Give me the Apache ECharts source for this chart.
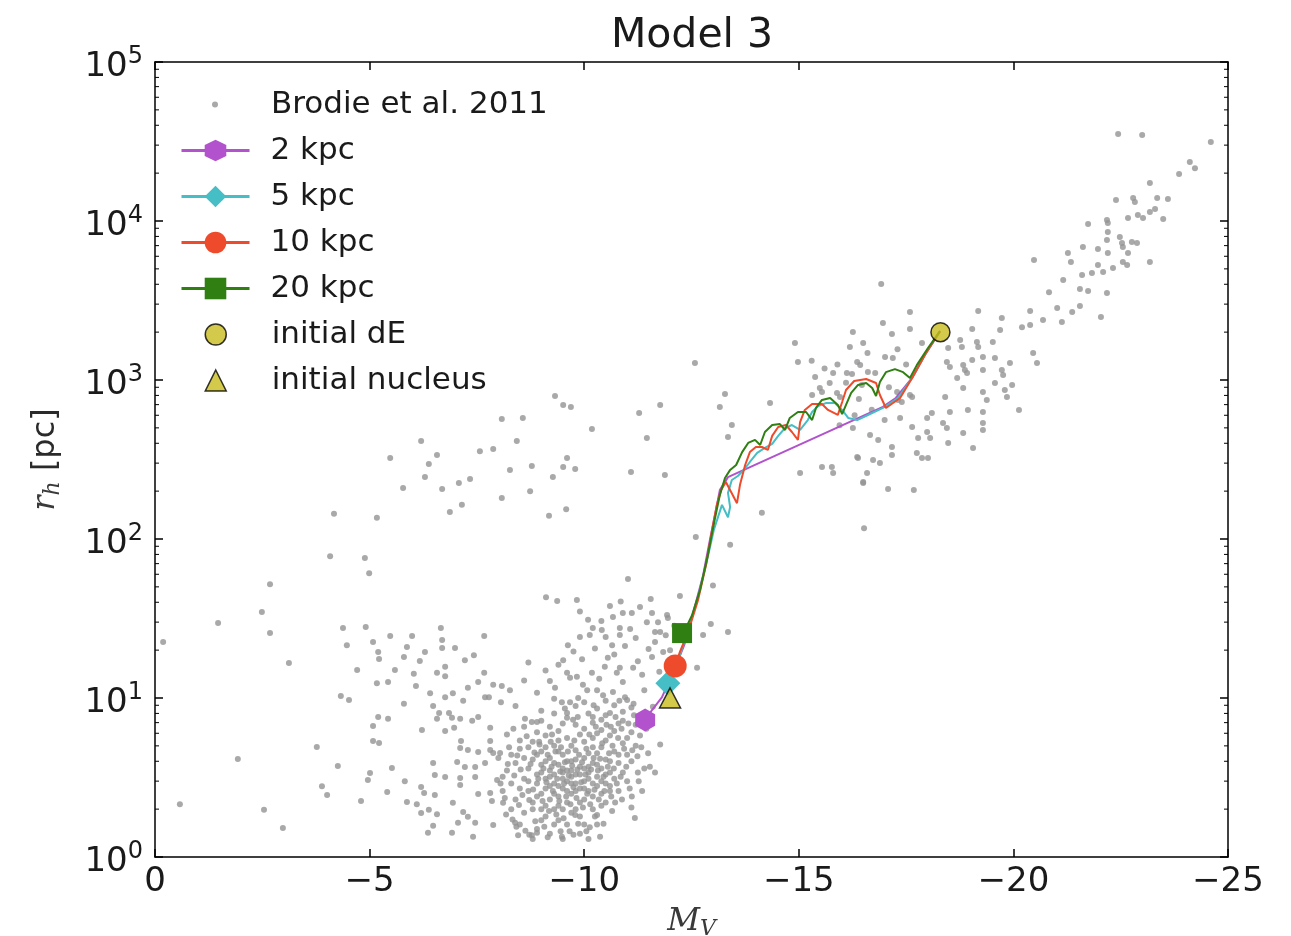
<!DOCTYPE html>
<html><head><meta charset="utf-8">
<script src="https://cdn.jsdelivr.net/npm/echarts@6/dist/echarts.min.js"></script>
<style>html,body{margin:0;padding:0;background:#fff}#c{width:1291px;height:936px}</style>
</head><body><div id="c"></div>
<script>
// ---- Brodie et al. 2011 sample: [M_V, r_h (pc)] ----
const brodieFaint = [[-0.19,22.5],[-0.58,2.15],[-1.47,29.6],[-1.93,4.13],[-2.54,1.98],[-2.68,52],[-2.49,34.7],[-2.68,25.6],[-3.12,16.6],[-2.98,1.52],[-3.77,4.92],[-3.89,2.79],[-4.01,2.45],[-4.08,78],[-4.17,144],[-4.26,3.73],[-4.33,10.3],[-4.52,9.7],[-4.38,27.6],[-4.47,21.5],[-4.71,15.0],[-4.80,2.25],[-4.89,76],[-4.91,28],[-4.99,61],[-5.08,22.5],[-5.17,136],[-5.08,6.67],[-5.08,5.37],[-5.22,5.21],[-5.20,19.5],[-5.22,17.6],[-5.17,12.4],[-5.43,12.6],[-5.20,7.6],[-5.43,7.4],[-5.01,3.37],[-4.96,3.05],[-5.41,2.56],[-5.48,24.5],[-5.48,323],[-5.52,3.63],[-5.59,15.0],[-5.78,209],[-5.80,18.1],[-5.80,9.2],[-5.82,3.0],[-5.87,20.9],[-5.87,2.22],[-5.99,24.5],[-6.03,14.2],[-6.08,11.9],[-6.10,2.15],[-6.17,17.1],[-6.20,413],[-6.20,2.76],[-6.27,2.53],[-6.20,1.89],[-6.22,6.3],[-6.29,19.5],[-6.29,245],[-6.36,1.42],[-6.38,1.98],[-6.38,296],[-6.41,10.7],[-6.48,8.9],[-6.48,3.9],[-6.48,1.57],[-6.52,3.28],[-6.52,2.45],[-6.57,338],[-6.57,14.4],[-6.57,7.4],[-6.57,1.86],[-6.62,8.05],[-6.66,27.6],[-6.69,23.2],[-6.69,20.6],[-6.69,206],[-6.76,15.7],[-6.76,13.7],[-6.76,10.1],[-6.76,6.2],[-6.76,3.19],[-6.85,8.05],[-6.87,148],[-6.92,7.5],[-6.92,1.42],[-6.94,10.7],[-6.94,2.19],[-6.97,6.5],[-6.99,20.6],[-7.04,3.96],[-7.06,1.64],[-7.08,225],[-7.11,7.4],[-7.11,4.85],[-7.11,3.14],[-7.11,2.84],[-7.13,5.37],[-7.15,164],[-7.18,9.6],[-7.18,1.92],[-7.22,17.3],[-7.22,3.68],[-7.29,11.6],[-7.29,4.71],[-7.29,1.79],[-7.34,238],[-7.39,7.2],[-7.41,1.34],[-7.43,18.6],[-7.46,3.68],[-7.46,3.19],[-7.46,1.64],[-7.53,12.6],[-7.53,7.6],[-7.53,4.57],[-7.53,2.49],[-7.57,357],[-7.67,24.5],[-7.67,14.4],[-7.69,10.1],[-7.69,3.9],[-7.78,10.1],[-7.81,6.5],[-7.81,5.37],[-7.81,4.71],[-7.81,2.53],[-7.85,2.25],[-7.88,368],[-7.88,12.1],[-7.88,4.51],[-7.88,1.59],[-7.97,3.05]];

const brodieMid = [[-8.04,4.51],[-8.06,9.4],[-8.08,569],[-8.08,181],[-8.08,11.9],[-8.11,2.19],[-8.27,272],[-8.27,11.2],[-8.39,1.64],[-8.43,413],[-8.46,1.37],[-8.57,577],[-8.74,200],[-8.78,288],[-8.78,7.07],[-8.78,1.37],[-8.90,7.07],[-8.90,1.42],[-9.11,43],[-9.18,140],[-9.27,245],[-9.32,793],[-9.37,40.7],[-9.48,1.34],[-9.51,697],[-9.51,284],[-9.58,154],[-9.60,323],[-9.69,677],[-9.79,276],[-9.83,41.3],[-10.18,492],[-11.02,56],[-11.09,264],[-11.28,620],[-11.46,432],[-9.62,21.5],[-9.90,24.2],[-10.09,31],[-10.13,24.9],[-10.20,27.6],[-10.41,26.8],[-10.60,37.9],[-10.67,32.3],[-10.90,34.3],[-11.11,34.3],[-11.30,37.4],[-10.83,27.6],[-10.83,24.9],[-11.07,27.2],[-11.46,30],[-11.58,34.3],[-11.72,30],[-11.93,33.3],[-11.95,31.8],[-10.65,21.5],[-11.65,26],[-11.77,26],[-11.65,22.5],[-9.51,17.3],[-10.55,17.9],[-11.58,18.1],[-11.84,19.5],[-12.00,20],[-10.48,15.7],[-10.83,15.5],[-9.60,14.4],[-9.67,13.4],[-9.83,13.6],[-10.18,14.4],[-10.76,14.4],[-11.14,15.5],[-11.35,14],[-9.32,11.6],[-9.97,12.1],[-10.07,11.2],[-9.48,9.4],[-9.67,9.4],[-9.86,10],[-10.30,11.2],[-10.44,10.4],[-11.00,9.7],[-9.60,8.05],[-9.74,7.3],[-10.20,7.6],[-10.60,8.05],[-10.95,10.1],[-10.67,10.9],[-11.77,5.1],[-11.49,4.5],[-11.53,3.7],[-11.65,3.4],[-11.25,3.4],[-11.11,2.4],[-10.72,2.2],[-11.18,1.76],[-10.30,1.84],[-9.79,1.84],[-10.13,1.54],[-10.37,1.34],[-12.95,29.2],[-12.77,24.9],[-13.35,26],[-12.63,15.5],[-12.23,43.8],[-13.00,51],[-12.60,103],[-13.40,92],[-14.14,146],[-11.88,253],[-11.77,697],[-13.16,677],[-13.44,521],[-13.35,438],[-13.28,817],[-14.33,716],[-12.58,1279],[-14.91,1710],[-14.98,1298]];

const brodieArm = [[-9.2,12.8],[-9.4,16.2],[-9.75,19.6],[-9.95,17.5],[-10.25,20.5],[-10.35,13.2],[-10.5,24.2],[-10.7,18.8],[-10.9,12.6],[-10.95,21.2],[-11.2,23.8],[-11.25,17.0],[-11.4,11.2],[-11.5,20.3],[-11.75,14.6],[-11.9,24.8],[-12.1,28.5],[-10.4,30.5],[-10.85,40.5],[-11.55,42],[-9.9,35],[-11.15,9.2],[-11.6,8.8],[-9.3,9.9],[-9.1,14.9],[-8.9,10.8],[-8.6,12.9],[-8.4,8.9],[-8.7,16.7]];

const brodieCore = [[-8.6,3.1],[-8.7,2.6],[-8.7,3.6],[-8.8,2.2],[-8.8,4.1],[-8.9,2.9],[-8.9,3.3],[-9.0,2.0],[-9.0,2.5],[-9.0,3.8],[-9.0,4.6],[-9.1,2.7],[-9.1,3.1],[-9.1,1.8],[-9.2,2.3],[-9.2,3.5],[-9.2,4.2],[-9.3,2.0],[-9.3,2.9],[-9.3,3.3],[-9.3,5.0],[-9.4,2.4],[-9.4,3.8],[-9.4,1.7],[-9.5,2.7],[-9.5,3.1],[-9.5,4.4],[-9.6,2.2],[-9.6,3.5],[-9.6,5.6],[-9.7,2.5],[-9.7,2.9],[-9.7,4.0],[-9.8,3.3],[-9.8,2.0],[-9.8,4.7],[-9.9,2.7],[-9.9,3.7],[-10.0,3.0],[-10.0,2.3],[-10.0,4.2],[-10.0,5.3],[-10.1,3.4],[-10.1,2.6],[-10.2,3.9],[-10.2,2.9],[-10.3,4.5],[-10.3,3.2],[-10.4,2.5],[-10.4,3.6],[-10.5,4.1],[-10.5,2.9],[-10.6,3.4],[-10.7,4.6],[-10.8,3.9],[-10.9,5.2],[-10.6,5.8],[-10.4,6.3],[-10.2,7.0],[-10.0,6.4],[-9.8,6.8],[-10.5,7.8],[-10.8,6.9],[-11.0,4.4],[-11.1,6.1],[-11.2,5.0],[-10.9,8.2],[-10.7,9.0],[-10.3,8.6],[-10.0,9.4],[-9.6,7.5],[-9.4,6.2],[-9.1,5.8],[-8.8,5.3],[-8.5,4.8],[-8.4,3.9],[-8.3,2.9],[-8.4,2.3],[-8.6,1.9],[-8.5,1.6],[-8.9,1.5],[-9.2,1.4],[-9.6,1.6],[-9.9,1.8],[-10.2,2.0],[-10.5,2.2],[-10.8,2.6],[-11.0,3.0],[-8.2,3.5],[-8.1,2.6],[-8.0,4.2],[-8.2,5.9],[-8.6,6.6],[-9.0,7.2],[-9.3,8.0],[-9.7,5.0],[-9.9,1.4],[-9.5,1.3],[-10.3,1.6],[-10.1,1.3],[-8.8,1.3],[-8.7,4.9],[-9.4,4.6],[-10.2,4.9],[-9.0,3.4],[-9.2,2.8],[-9.6,3.0],[-9.8,2.6],[-10.1,3.7],[-9.4,2.1],[-8.9,2.4],[-9.7,3.5],[-10.4,3.0],[-10.6,2.6],[-9.1,4.0],[-9.5,3.6],[-10.0,3.6],[-9.3,2.5],[-8.3,2.0],[-8.5,2.7],[-8.6,4.2],[-8.7,3.0],[-8.8,2.0],[-8.9,4.4],[-9.0,1.7],[-9.1,2.1],[-9.1,4.9],[-9.2,3.2],[-9.3,3.9],[-9.3,1.6],[-9.4,2.8],[-9.4,5.4],[-9.5,2.0],[-9.5,3.4],[-9.6,4.0],[-9.6,2.6],[-9.7,1.9],[-9.7,3.2],[-9.8,4.1],[-9.8,2.9],[-9.9,2.2],[-9.9,3.3],[-10.0,2.7],[-10.0,1.6],[-10.1,4.5],[-10.1,3.1],[-10.2,2.4],[-10.2,5.6],[-10.3,2.8],[-10.3,3.8],[-10.4,4.9],[-10.4,2.1],[-10.5,3.3],[-10.5,5.4],[-10.6,2.8],[-10.6,4.0],[-10.7,3.1],[-10.7,6.2],[-10.8,4.4],[-10.9,3.4],[-11.0,5.6],[-11.1,4.0],[-11.2,6.8],[-10.9,7.2],[-10.5,9.6],[-10.3,6.0],[-9.9,5.9],[-9.5,6.9],[-9.2,6.6],[-8.9,6.1],[-8.5,5.4],[-8.3,4.4],[-9.0,8.3],[-9.8,8.9],[-10.1,8.0],[-11.1,8.7],[-11.3,5.8],[-8.1,3.2]];

const brodieCoreB = [[-8.15,2.35],[-8.22,3.85],[-8.33,1.72],[-8.37,3.25],[-8.44,4.35],[-8.48,2.12],[-8.52,3.55],[-8.56,2.45],[-8.63,1.46],[-8.66,5.75],[-8.72,2.28],[-8.75,3.85],[-8.81,2.66],[-8.84,4.55],[-8.86,1.68],[-8.93,3.1],[-8.96,5.1],[-9.03,2.25],[-9.05,3.6],[-9.07,1.55],[-9.12,2.95],[-9.15,4.4],[-9.18,1.95],[-9.22,5.3],[-9.24,3.7],[-9.27,2.6],[-9.33,4.6],[-9.35,1.85],[-9.37,3.1],[-9.42,2.25],[-9.44,3.45],[-9.46,4.9],[-9.52,1.75],[-9.53,2.9],[-9.55,3.95],[-9.58,2.4],[-9.62,4.6],[-9.64,3.25],[-9.66,1.45],[-9.68,2.15],[-9.72,3.75],[-9.75,2.75],[-9.77,5.4],[-9.82,2.35],[-9.84,3.55],[-9.86,1.62],[-9.88,4.4],[-9.93,2.95],[-9.95,3.95],[-9.97,2.05],[-10.03,3.3],[-10.05,4.8],[-10.07,2.5],[-10.12,5.9],[-10.14,2.15],[-10.16,3.55],[-10.22,4.2],[-10.24,2.65],[-10.27,6.6],[-10.32,3.5],[-10.34,2.3],[-10.37,4.15],[-10.42,5.2],[-10.45,3.2],[-10.47,2.6],[-10.52,6.8],[-10.55,3.7],[-10.58,4.5],[-10.63,2.4],[-10.66,5.0],[-10.69,3.6],[-10.73,7.6],[-10.76,2.9],[-10.79,5.6],[-10.85,3.2],[-10.87,6.4],[-10.93,4.8],[-10.98,3.7],[-11.03,6.9],[-11.06,2.7],[-11.12,4.7],[-11.16,7.8],[-11.24,4.3],[-11.27,3.0],[-10.22,9.0],[-10.4,7.3],[-10.62,6.6],[-10.82,9.6],[-9.85,7.6],[-9.55,8.6],[-9.25,5.9],[-8.95,5.3],[-8.62,7.4],[-8.35,6.4],[-8.25,4.9],[-8.05,2.9],[-8.18,1.85],[-8.42,1.55],[-8.72,1.38],[-9.15,1.33],[-9.45,1.45],[-9.75,1.38],[-10.05,1.45],[-10.25,1.8],[-10.45,1.62],[-10.65,1.95],[-10.88,2.3],[-11.1,2.05],[-11.35,2.6],[-11.4,3.6],[-11.33,4.9],[-11.45,6.4]];

const brodieBright = [[-16.52,117],[-16.50,225],[-17.08,206],[-17.68,203],[-15.03,260],[-15.54,284],[-15.77,284],[-15.80,260],[-16.36,328],[-16.73,314],[-16.89,301],[-16.59,260],[-16.50,228],[-16.26,2004],[-17.17,1946],[-16.19,1614],[-16.50,1710],[-17.87,1710],[-16.96,2282],[-17.59,2679],[-16.92,4018],[-17.59,2094],[-17.01,1396],[-17.19,1374],[-16.36,1298],[-16.43,1241],[-15.80,1107],[-16.12,1107],[-16.24,1091],[-15.38,1045],[-16.61,1122],[-16.78,1107],[-15.49,891],[-15.54,841],[-15.72,957],[-15.31,805],[-15.89,829],[-15.96,782],[-16.47,931],[-17.29,841],[-17.31,748],[-17.40,727],[-17.64,782],[-16.26,499],[-16.66,451],[-17.36,577],[-17.64,506],[-17.17,379],[-17.17,338],[-17.75,348],[-17.87,323],[-18.01,323],[-16.38,323],[-15.6,1180],[-15.9,1250],[-16.1,960],[-16.4,760],[-16.7,650],[-17.0,560],[-16.85,420],[-15.95,520],[-16.3,600],[-17.1,900],[-15.3,1320],[-16.6,1480],[-17.3,1560],[-17.5,1250],[-18.48,1589],[-18.76,1786],[-18.80,1614],[-19.15,1734],[-19.18,1614],[-19.52,1734],[-19.18,2716],[-19.04,2094],[-19.73,2455],[-19.69,2063],[-20.46,1479],[-20.55,1279],[-18.45,1298],[-18.52,1208],[-18.83,1242],[-19.04,1336],[-19.29,1396],[-19.57,1374],[-19.92,1279],[-18.69,1030],[-18.87,1156],[-18.92,1107],[-19.29,1156],[-19.73,1156],[-19.76,1075],[-19.57,957],[-19.97,931],[-18.83,891],[-19.29,841],[-19.38,749],[-19.80,865],[-19.85,782],[-18.41,782],[-17.59,805],[-20.13,648],[-18.94,648],[-19.29,629],[-18.52,629],[-18.10,620],[-17.99,577],[-18.36,537],[-18.45,499],[-19.29,537],[-19.29,485],[-18.83,464],[-17.99,471],[-17.78,432],[-18.06,432],[-18.48,402],[-19.06,374]];

const brodieGiant = [[-22.44,35240],[-23.0,34750],[-24.6,31400],[-24.11,23500],[-24.23,21500],[-23.86,19770],[-23.18,17340],[-22.39,13550],[-22.79,13960],[-22.83,13150],[-23.35,13960],[-23.60,13740],[-21.74,9570],[-22.18,10140],[-22.20,9710],[-22.67,10440],[-22.90,10920],[-23.02,10440],[-23.18,11410],[-23.30,11890],[-23.49,10300],[-22.20,8530],[-22.18,7600],[-22.48,7930],[-22.53,7270],[-22.55,6860],[-22.76,7380],[-22.88,7270],[-21.62,6860],[-21.27,6290],[-21.34,5520],[-21.97,6670],[-22.20,6290],[-22.67,6290],[-23.18,5520],[-20.48,5690],[-21.97,5290],[-21.83,4710],[-22.09,4780],[-22.32,5060],[-22.55,5520],[-22.65,5290],[-21.60,4570],[-21.16,4260],[-21.55,3740],[-21.74,3630],[-22.18,3520],[-20.83,3570],[-20.39,2716],[-21.02,2840],[-21.37,2680],[-21.55,2920],[-22.04,2490],[-20.69,2385],[-20.39,2220],[-20.20,2150],[-21.13,2320]];

// ---- Model 3 tracks: [M_V, r_h (pc)] ----
const track2kpc = [[-18.29,2030],[-17.94,1440],[-17.64,1030],[-17.26,771],[-16.96,677],[-13.35,245],[-13.16,203],[-13.07,152],[-12.93,99],[-12.77,59],[-12.56,36],[-12.33,21.5],[-12.05,14],[-11.81,10.1],[-11.58,8.4],[-11.42,7.27]];
const track5kpc = [[-18.29,2030],[-17.94,1440],[-17.64,1030],[-17.31,771],[-16.96,667],[-16.66,611],[-16.36,560],[-16.15,577],[-16.01,648],[-15.84,716],[-15.63,716],[-15.45,686],[-15.31,629],[-15.21,560],[-15.03,485],[-14.84,521],[-14.68,499],[-14.52,445],[-14.38,396],[-14.21,374],[-14.03,348],[-13.86,305],[-13.72,272],[-13.58,249],[-13.44,235],[-13.35,195],[-13.40,159],[-13.35,137],[-13.21,164],[-13.02,114],[-12.84,69],[-12.63,41],[-12.42,26.8],[-12.19,17.3],[-12.00,13.4],[-11.95,12.4]];
const track10kpc = [[-18.29,2030],[-17.94,1440],[-17.64,1030],[-17.36,771],[-17.03,667],[-16.89,805],[-16.80,957],[-16.57,1014],[-16.29,986],[-16.10,865],[-16.01,727],[-15.91,603],[-15.68,648],[-15.54,706],[-15.31,706],[-15.14,648],[-15.03,544],[-14.98,420],[-14.84,471],[-14.70,521],[-14.52,506],[-14.38,445],[-14.28,363],[-14.14,379],[-14.00,379],[-13.86,352],[-13.75,292],[-13.63,219],[-13.56,168],[-13.42,198],[-13.30,228],[-13.19,203],[-13.09,164],[-12.98,114],[-12.84,69],[-12.65,41],[-12.42,26],[-12.23,19.5],[-12.12,15.9]];
const track20kpc = [[-18.29,2030],[-18.01,1590],[-17.75,1240],[-17.59,1030],[-17.43,1120],[-17.24,1170],[-17.03,1120],[-16.89,970],[-16.80,793],[-16.71,891],[-16.57,957],[-16.38,931],[-16.22,829],[-16.10,697],[-16.01,611],[-15.91,697],[-15.73,771],[-15.54,749],[-15.40,667],[-15.31,560],[-15.17,629],[-14.98,629],[-14.79,577],[-14.68,485],[-14.56,528],[-14.38,521],[-14.21,471],[-14.10,390],[-13.98,420],[-13.82,402],[-13.68,352],[-13.54,292],[-13.40,272],[-13.28,242],[-13.16,189],[-13.04,132],[-12.88,79],[-12.70,48],[-12.51,33],[-12.37,27.6],[-12.28,25.6]];
const initialDE = [[-18.3, 2000]];
const initialNucleus = [[-12.0, 10]];

// ---- axis ticks ----
const yDecades = [1, 10, 100, 1000, 10000];
const yMinorMultipliers = [2, 3, 4, 5, 6, 7, 8, 9];
const yMinorTicks = [];
yDecades.forEach(d => yMinorMultipliers.forEach(m => yMinorTicks.push(d * m)));

const FONT = 'DejaVu Sans';
const TXT = '#1a1a1a';
const HEX = 'path://M0,-1 L0.866,-0.5 L0.866,0.5 L0,1 L-0.866,0.5 L-0.866,-0.5 Z';
const COL = { p: '#b252cc', c: '#45bec6', r: '#ee4a2c', g: '#2f7f12', y: '#c8bb1e' };

function endMarked(arr, symbol, size) {
  return arr.map((p, i) => i === arr.length - 1 ? { value: p, symbol: symbol, symbolSize: size } : { value: p, symbol: 'none' });
}

const chart = echarts.init(document.getElementById('c'), null, { renderer: 'canvas' });
const axisLineStyle = { color: '#000', width: 1.5 };
const legendText = (pad) => ({ fontSize: 31, fontFamily: FONT, color: TXT, lineHeight: 20, padding: [0, 0, 0, pad] });
chart.setOption({
  animation: false,
  backgroundColor: '#fff',
  grid: { left: 155, right: 63, top: 62, bottom: 79, containLabel: false, outerBoundsMode: 'none' },
  graphic: [{
    type: 'text', x: 692, y: 36, z: 100,
    style: { text: 'Model 3', fontSize: 41, fontFamily: FONT, fill: TXT, align: 'center', verticalAlign: 'middle' }
  }],
  xAxis: [{
    type: 'value', min: -25, max: 0, interval: 5, inverse: true, position: 'bottom',
    axisLine: { show: true, onZero: false, lineStyle: axisLineStyle },
    axisTick: { show: true, inside: true, length: 8, lineStyle: axisLineStyle },
    splitLine: { show: false },
    axisLabel: { margin: 8, fontSize: 34, fontFamily: FONT, color: TXT,
      formatter: v => v === 0 ? '0' : '\u2212' + Math.abs(v) },
    name: '{m|M}{v|V}', nameLocation: 'middle', nameGap: 45,
    nameTextStyle: { rich: {
      m: { fontSize: 32, fontFamily: 'DejaVu Serif', fontStyle: 'italic', color: '#3a3a3a', lineHeight: 32, verticalAlign: 'top' },
      v: { fontSize: 22, fontFamily: 'DejaVu Serif', fontStyle: 'italic', color: '#3a3a3a', lineHeight: 22, padding: [14, 0, 0, 0] }
    } }
  }, {
    type: 'value', min: -25, max: 0, interval: 5, inverse: true, position: 'top',
    axisLine: { show: true, onZero: false, lineStyle: axisLineStyle },
    axisTick: { show: true, inside: true, length: 8, lineStyle: axisLineStyle },
    splitLine: { show: false }, axisLabel: { show: false }
  }],
  yAxis: [{
    type: 'log', logBase: 10, min: 1, max: 100000, position: 'left',
    axisLine: { show: true, onZero: false, lineStyle: axisLineStyle },
    axisTick: { show: true, inside: true, length: 8, lineStyle: axisLineStyle },
    splitLine: { show: false },
    axisLabel: { margin: 12,
      formatter: v => '{b|10}{s|' + Math.round(Math.log10(v)) + '}',
      rich: {
        b: { fontSize: 34, fontFamily: FONT, color: TXT, lineHeight: 34, padding: [10, 0, 0, 0] },
        s: { fontSize: 24, fontFamily: FONT, color: TXT, lineHeight: 24, verticalAlign: 'top' }
      } },
    name: '{r|r}{h|h}{n| [pc]}', nameLocation: 'middle', nameGap: 93, nameRotate: 90,
    nameTextStyle: { rich: {
      r: { fontSize: 32, fontFamily: 'DejaVu Serif', fontStyle: 'italic', color: '#3a3a3a', lineHeight: 32, verticalAlign: 'top' },
      h: { fontSize: 22, fontFamily: 'DejaVu Serif', fontStyle: 'italic', color: '#3a3a3a', lineHeight: 22, padding: [14, 0, 0, 0] },
      n: { fontSize: 32, fontFamily: FONT, color: '#2a2a2a', lineHeight: 32, verticalAlign: 'top' }
    } }
  }, {
    type: 'log', logBase: 10, min: 1, max: 100000, position: 'right',
    axisLine: { show: true, onZero: false, lineStyle: axisLineStyle },
    axisTick: { show: true, inside: true, length: 8, lineStyle: axisLineStyle },
    splitLine: { show: false }, axisLabel: { show: false }
  }],
  legend: [{
    data: ['Brodie et al. 2011'], orient: 'vertical', left: 212, top: 89, padding: 0,
    itemWidth: 6, itemHeight: 6, selectedMode: false,
    textStyle: legendText(48)
  }, {
    data: ['2 kpc', '5 kpc', '10 kpc', '20 kpc'], orient: 'vertical', left: 180, top: 135, padding: 0,
    itemWidth: 68, itemHeight: 27, itemGap: 15, selectedMode: false,
    lineStyle: { width: 3 }, itemStyle: { borderWidth: 0 },
    textStyle: legendText(16)
  }, {
    data: ['initial dE', 'initial nucleus'], orient: 'vertical', left: 204.5, top: 319, padding: 0,
    itemWidth: 21, itemHeight: 21, itemGap: 15, selectedMode: false,
    itemStyle: { borderColor: '#000', borderWidth: 1.5 },
    textStyle: legendText(40.5)
  }],
  series: [{
    type: 'custom', silent: true, z: 20, clip: false,
    data: yMinorTicks.map(v => [0, v]),
    renderItem: (params, api) => {
      const v = api.value(1);
      const pl = api.coord([0, v]);
      const pr = api.coord([-25, v]);
      return { type: 'group', children: [
        { type: 'line', shape: { x1: pl[0], y1: pl[1], x2: pl[0] + 4, y2: pl[1] }, style: { stroke: '#000', lineWidth: 1 } },
        { type: 'line', shape: { x1: pr[0], y1: pr[1], x2: pr[0] - 4, y2: pr[1] }, style: { stroke: '#000', lineWidth: 1 } }
      ] };
    }
  }, {
    name: 'Brodie et al. 2011', type: 'scatter', silent: true, z: 2,
    data: brodieFaint.concat(brodieMid, brodieArm, brodieCore, brodieCoreB, brodieBright, brodieGiant),
    symbol: 'circle', symbolSize: 6, itemStyle: { color: '#939393' }
  }, {
    name: '2 kpc', type: 'line', silent: true, z: 3, data: endMarked(track2kpc, HEX, 23),
    symbol: HEX, symbolSize: 23, symbolKeepAspect: true, showSymbol: true,
    lineStyle: { color: COL.p, width: 2 }, itemStyle: { color: COL.p }
  }, {
    name: '5 kpc', type: 'line', silent: true, z: 4, data: endMarked(track5kpc, 'diamond', 25),
    symbol: 'diamond', symbolSize: 25, showSymbol: true,
    lineStyle: { color: COL.c, width: 2 }, itemStyle: { color: COL.c }
  }, {
    name: '10 kpc', type: 'line', silent: true, z: 5, data: endMarked(track10kpc, 'circle', 23),
    symbol: 'circle', symbolSize: 23, showSymbol: true,
    lineStyle: { color: COL.r, width: 2 }, itemStyle: { color: COL.r }
  }, {
    name: '20 kpc', type: 'line', silent: true, z: 6, data: endMarked(track20kpc, 'rect', 20),
    symbol: 'rect', symbolSize: 20, showSymbol: true,
    lineStyle: { color: COL.g, width: 2 }, itemStyle: { color: COL.g }
  }, {
    name: 'initial dE', type: 'scatter', silent: true, z: 8, data: initialDE,
    symbol: 'circle', symbolSize: 19, itemStyle: { color: COL.y, borderColor: '#000', borderWidth: 1.5 }
  }, {
    name: 'initial nucleus', type: 'scatter', silent: true, z: 8, data: initialNucleus,
    symbol: 'triangle', symbolSize: [21, 20], itemStyle: { color: COL.y, borderColor: '#000', borderWidth: 1.5 }
  }]
});
</script></body></html>
